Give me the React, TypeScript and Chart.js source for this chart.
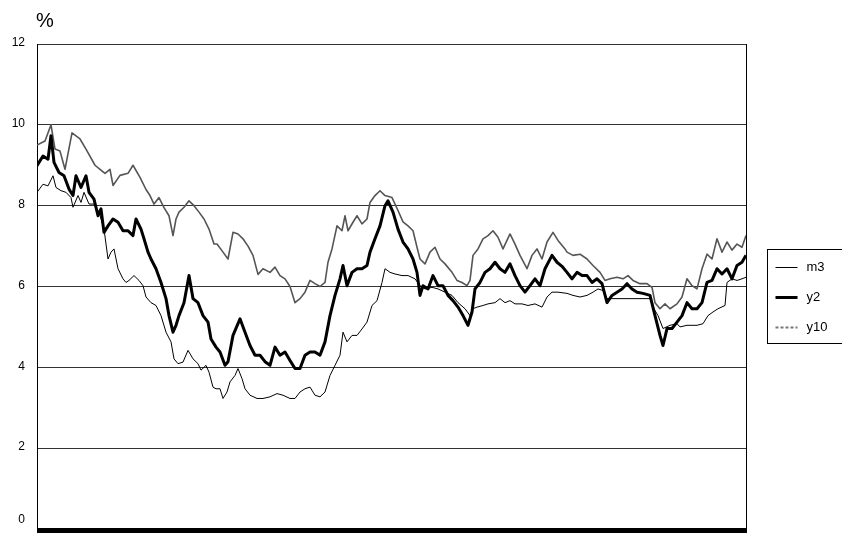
import React, { useEffect, useRef } from "react";
import { Chart, registerables } from "chart.js";

Chart.register(...registerables);

// Observation index (weeks from start of sample) and rates in %
const m3Week = [0,6,11,16,19,24,29,34,36,41,44,47,52,57,62,67,71,74,77,81,86,89,92,97,102,106,109,114,119,124,129,134,137,141,146,151,156,161,164,169,172,176,179,183,186,190,193,198,201,205,208,213,220,226,233,240,246,253,258,263,268,273,278,283,288,293,298,303,306,310,315,320,325,330,335,340,345,348,353,358,365,371,378,383,388,395,401,408,415,421,428,433,436,440,446,451,458,463,468,473,478,485,491,498,505,510,515,521,530,536,543,550,556,561,566,570,590,613,616,621,626,633,640,643,650,660,666,671,676,681,688,690,695,700,705,709];
const m3Rate = [8.33,8.53,8.49,8.74,8.45,8.37,8.33,8.2,7.96,8.25,8.08,8.33,8.04,8.04,7.84,7.42,6.68,6.85,6.93,6.44,6.19,6.1,6.15,6.27,6.15,6.02,5.74,5.6,5.53,5.28,4.87,4.63,4.21,4.09,4.13,4.42,4.21,4.09,3.93,4.05,3.88,3.51,3.47,3.47,3.23,3.39,3.64,3.8,3.97,3.72,3.47,3.31,3.23,3.23,3.27,3.35,3.31,3.23,3.23,3.39,3.47,3.51,3.31,3.27,3.39,3.8,4.05,4.3,4.87,4.63,4.79,4.79,4.95,5.12,5.53,5.65,6.1,6.44,6.35,6.31,6.27,6.27,6.19,6.02,5.94,5.98,5.94,5.86,5.78,5.6,5.45,5.28,5.45,5.49,5.53,5.57,5.6,5.7,5.6,5.65,5.57,5.57,5.53,5.57,5.49,5.74,5.86,5.86,5.83,5.78,5.74,5.78,5.86,5.94,5.9,5.7,5.7,5.7,5.49,5.28,4.96,5.04,5.08,5.0,5.04,5.04,5.08,5.28,5.37,5.45,5.53,6.1,6.19,6.15,6.19,6.23];

const y2Week = [0,6,11,14,17,22,27,32,36,39,44,49,52,57,61,64,67,71,76,81,86,91,96,99,104,107,111,114,119,124,129,132,136,139,142,147,152,156,161,166,171,174,179,183,188,191,196,203,208,213,218,223,228,233,238,243,248,253,258,263,268,273,278,283,288,293,298,303,306,310,315,320,325,330,333,338,343,348,351,356,361,366,371,376,380,383,386,391,396,401,406,411,416,421,426,431,435,438,443,448,453,458,463,468,473,478,483,488,493,498,503,508,515,520,525,530,535,540,545,550,555,560,565,570,575,580,585,590,595,600,606,613,618,623,626,630,635,640,645,650,655,660,665,670,675,680,685,690,695,700,705,709];
const y2Rate = [8.99,9.23,9.15,9.73,9.07,8.82,8.74,8.41,8.25,8.74,8.45,8.74,8.33,8.16,7.75,7.92,7.34,7.5,7.67,7.59,7.38,7.38,7.26,7.67,7.42,7.18,6.85,6.68,6.44,6.1,5.7,5.28,4.87,5.04,5.28,5.6,6.27,5.7,5.6,5.28,5.12,4.7,4.5,4.38,4.05,4.14,4.79,5.2,4.87,4.54,4.3,4.3,4.14,4.05,4.5,4.3,4.38,4.17,3.97,3.97,4.3,4.38,4.38,4.3,4.63,5.28,5.78,6.19,6.52,6.02,6.35,6.44,6.44,6.52,6.85,7.18,7.5,8.0,8.12,7.84,7.42,7.1,6.93,6.68,6.35,5.78,6.02,5.94,6.27,6.02,6.02,5.78,5.65,5.49,5.28,5.04,5.37,5.94,6.1,6.35,6.44,6.6,6.44,6.35,6.56,6.27,6.02,5.86,6.02,6.19,6.02,6.44,6.77,6.6,6.5,6.35,6.19,6.35,6.27,6.27,6.1,6.19,6.07,5.6,5.78,5.86,5.94,6.07,5.94,5.86,5.83,5.78,5.28,4.79,4.54,4.96,4.96,5.12,5.28,5.6,5.45,5.45,5.6,6.1,6.15,6.44,6.31,6.44,6.19,6.52,6.6,6.77];

const y10Week = [0,8,14,18,23,28,35,43,49,58,63,68,73,76,83,91,96,103,109,113,117,122,127,132,136,139,142,147,152,157,162,167,172,177,180,186,191,196,201,206,211,216,221,226,233,238,243,248,253,258,263,268,273,278,283,288,291,295,300,305,308,311,316,320,325,330,333,338,343,348,355,361,366,371,376,380,383,388,393,398,403,408,415,420,425,430,433,436,441,446,451,456,461,466,473,478,483,490,495,500,505,510,516,521,528,530,536,543,550,556,563,568,573,580,586,591,596,603,610,615,618,623,628,633,640,645,650,655,660,665,670,675,680,685,690,695,700,705,709];
const y10Rate = [9.5,9.6,10.0,9.4,9.35,8.9,9.8,9.65,9.4,9.0,8.9,8.8,8.9,8.5,8.75,8.8,9.0,8.7,8.4,8.25,8.04,8.2,7.95,7.75,7.26,7.67,7.84,7.96,8.12,8.0,7.84,7.67,7.42,7.05,7.05,6.85,6.68,7.34,7.3,7.18,7.0,6.77,6.3,6.44,6.35,6.48,6.27,6.19,6.0,5.6,5.7,5.86,6.15,6.07,6.0,6.1,6.6,6.93,7.5,7.38,7.75,7.38,7.59,7.75,7.55,7.67,8.08,8.25,8.37,8.25,8.2,7.88,7.6,7.5,7.38,6.97,6.68,6.56,6.85,6.97,6.68,6.56,6.35,6.15,6.1,6.02,6.15,6.77,6.93,7.18,7.26,7.38,7.22,6.93,7.3,7.05,6.77,6.44,6.77,6.93,6.68,7.1,7.34,7.14,6.93,6.85,6.77,6.8,6.68,6.52,6.35,6.15,6.19,6.23,6.19,6.27,6.15,6.07,6.07,5.98,5.6,5.45,5.57,5.45,5.57,5.74,6.19,6.02,5.94,6.44,6.8,6.68,7.18,6.85,7.1,6.9,7.05,6.97,7.26];

const yTicks = [0, 2, 4, 6, 8, 10, 12];
const seriesNames = ["m3", "y2", "y10"];
const unitLabel = "%";

const FONT = '"Liberation Sans", Arial, sans-serif';

const toPoints = (w: number[], r: number[]) => w.map((x, i) => ({ x, y: r[i] }));

const framePlugin = {
  id: "frame",
  afterDraw(chart: any) {
    const { ctx, chartArea } = chart;
    const { left, right, top, bottom } = chartArea;
    const y = chart.scales.y;
    ctx.save();
    // right border
    ctx.strokeStyle = "#000";
    ctx.lineWidth = 1;
    ctx.beginPath();
    ctx.moveTo(Math.round(right) + 0.5, top);
    ctx.lineTo(Math.round(right) + 0.5, bottom);
    ctx.stroke();
    // thick bottom bar
    ctx.fillStyle = "#000";
    ctx.fillRect(left, bottom - 1, right - left + 1, 5);
    // y tick labels
    ctx.font = `12px ${FONT}`;
    ctx.textAlign = "right";
    ctx.textBaseline = "middle";
    yTicks.forEach((v) => {
      let py = y.getPixelForValue(v);
      if (v === 0) py -= 8;
      ctx.fillText(String(v), left - 12, py - 1);
    });
    // unit
    ctx.font = `20px ${FONT}`;
    ctx.textAlign = "left";
    ctx.fillText(unitLabel, left - 1, top - 23);
    // legend
    const lx = 767.5, ly = 249.5, lw = 80, lh = 94;
    ctx.lineWidth = 1;
    ctx.strokeStyle = "#000";
    ctx.setLineDash([]);
    ctx.strokeRect(lx, ly, lw, lh);
    const ds = chart.data.datasets;
    ds.forEach((d: any, i: number) => {
      const ry = Math.round(ly + 17 + i * 30) + 0.5;
      ctx.strokeStyle = i === 2 ? "#777" : d.borderColor;
      ctx.lineWidth = i === 0 ? 1 : i === 1 ? 3 : 2;
      ctx.setLineDash(i === 2 ? [3, 2] : []);
      ctx.beginPath();
      ctx.moveTo(lx + 8, ry);
      ctx.lineTo(lx + 30, ry);
      ctx.stroke();
      ctx.setLineDash([]);
      ctx.fillStyle = "#000";
      ctx.font = `13px ${FONT}`;
      ctx.textAlign = "left";
      ctx.textBaseline = "middle";
      ctx.fillText(d.label, lx + 39, ry);
    });
    ctx.restore();
  },
};

export default function App() {
  const ref = useRef<HTMLCanvasElement | null>(null);
  useEffect(() => {
    if (!ref.current) return;
    const chart = new Chart(ref.current, {
      type: "line",
      data: {
        datasets: [
          { label: seriesNames[0], data: toPoints(m3Week, m3Rate), borderColor: "#000", borderWidth: 1 },
          { label: seriesNames[1], data: toPoints(y2Week, y2Rate), borderColor: "#000", borderWidth: 3 },
          { label: seriesNames[2], data: toPoints(y10Week, y10Rate), borderColor: "#555", borderWidth: 1.6 },
        ],
      },
      options: {
        animation: false,
        responsive: false,
        devicePixelRatio: 1,
        layout: { padding: { left: 0, top: 44, right: 96, bottom: 6 } },
        plugins: { legend: { display: false }, tooltip: { enabled: false } },
        elements: { point: { radius: 0 }, line: { tension: 0, borderJoinStyle: "round" } },
        scales: {
          x: { type: "linear", min: 0, max: 709, display: false },
          y: {
            min: 0,
            max: 12,
            ticks: { stepSize: 2, display: false },
            grid: { color: "#333", lineWidth: 1, drawTicks: false },
            border: { display: true, color: "#000", width: 1 },
            afterFit: (s: any) => { s.width = 37; },
          },
        },
      },
      plugins: [framePlugin],
    } as any);
    return () => chart.destroy();
  }, []);
  return (
    <div style={{ position: "absolute", left: 0, top: 0, width: 842, height: 535, background: "#fff" }}>
      <canvas ref={ref} width={842} height={535} style={{ display: "block" }} />
    </div>
  );
}
